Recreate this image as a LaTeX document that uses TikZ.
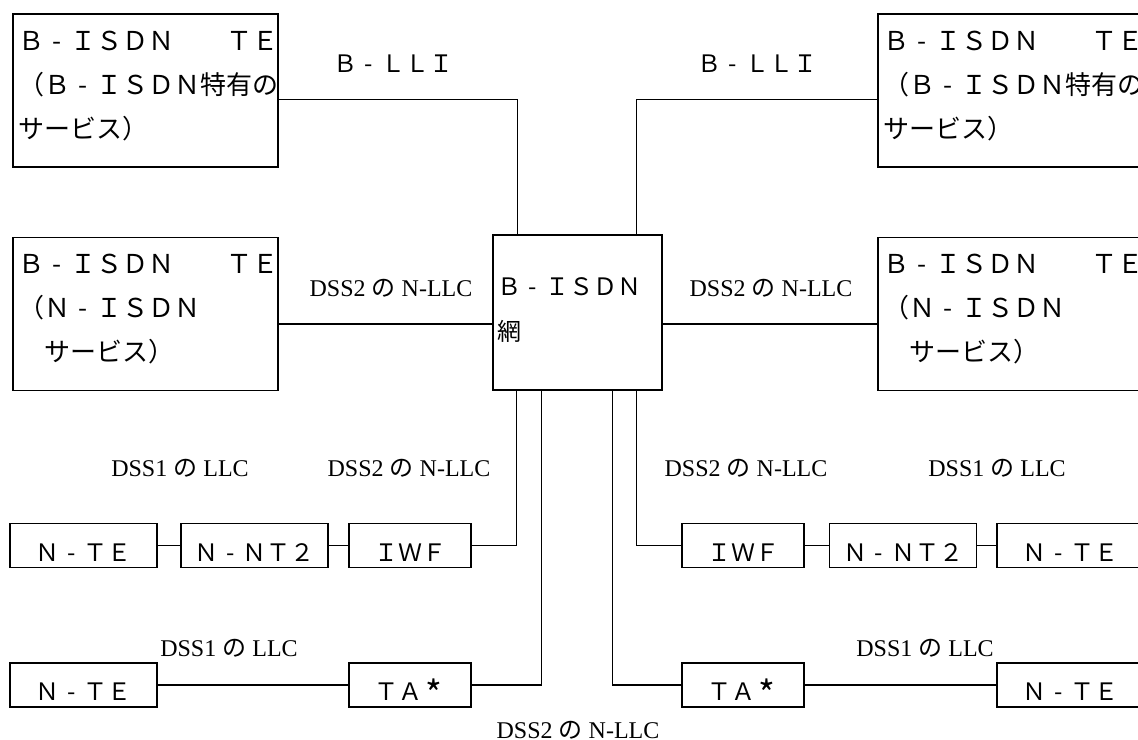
\documentclass[tikz,border=0pt]{standalone}
\usepackage{fontspec}
\usepackage{graphicx}
\setmainfont{Liberation Serif}
\newfontfamily\jp{Noto Sans CJK JP}
\newcommand\fwdash{\makebox[1em]{-}}
\newcommand\fwstar{\makebox[1em]{\raisebox{-0.3em}{\scalebox{1.5}{*}}}}
\usetikzlibrary{calc}

\begin{document}
\begin{tikzpicture}[x=0.75pt, y=-0.75pt, line width=0.8pt,
  bigbox/.style={draw, minimum width=198.75pt, minimum height=114.75pt, inner sep=0pt},
  bigtext/.style={anchor=north west, align=left, inner xsep=4pt, inner ysep=0pt, font=\jp\fontsize{19.5pt}{33pt}\selectfont},
  unitbox/.style={draw, minimum height=33pt, inner sep=0pt, text height=23.25pt, text depth=0pt, font=\jp\fontsize{18pt}{22pt}\selectfont},
  widebox/.style={unitbox, minimum width=110.25pt},
  narrowbox/.style={unitbox, minimum width=91.5pt},
  proto/.style={anchor=base, font=\fontsize{18pt}{22pt}\selectfont},
  ]
\useasboundingbox (0,0) rectangle (1138,739);

\node[bigbox] (bteL1) at (145.5,90.5) {};
\node[bigtext] (tL1) at (bteL1.north west) {\rule{0pt}{27pt}Ｂ\fwdash ＩＳＤＮ　　ＴＥ\\（Ｂ\fwdash ＩＳＤＮ特有の\\サービス）};
\node[bigbox] (bteR1) at (1010.5,90.5) {};
\node[bigtext] (tR1) at (bteR1.north west) {\rule{0pt}{27pt}Ｂ\fwdash ＩＳＤＮ　　ＴＥ\\（Ｂ\fwdash ＩＳＤＮ特有の\\サービス）};
\node[bigbox] (bteL2) at (145.5,314) {};
\node[bigtext] (tL2) at (bteL2.north west) {\rule{0pt}{27pt}Ｂ\fwdash ＩＳＤＮ　　ＴＥ\\（Ｎ\fwdash ＩＳＤＮ\\　サービス）};
\node[bigbox] (bteR2) at (1010.5,314) {};
\node[bigtext] (tR2) at (bteR2.north west) {\rule{0pt}{27pt}Ｂ\fwdash ＩＳＤＮ　　ＴＥ\\（Ｎ\fwdash ＩＳＤＮ\\　サービス）};

\node[draw, minimum width=126.75pt, minimum height=116.25pt, inner sep=0pt] (net) at (577.5,312.5) {};
\node[bigtext, inner xsep=3pt, font=\jp\fontsize{18pt}{33.75pt}\selectfont] (netlbl) at (net.north west) {\rule{0pt}{45pt}Ｂ\fwdash ＩＳＤＮ\\網};

\node[widebox] (nteL) at (83.5,545.5) {Ｎ\fwdash ＴＥ};
\node[widebox] (nnt2L) at (254.5,545.5) {Ｎ\fwdash ＮＴ２};
\node[narrowbox] (iwfL) at (410,545.5) {ＩＷＦ};
\node[narrowbox] (iwfR) at (743,545.5) {ＩＷＦ};
\node[widebox] (nnt2R) at (903,545.5) {Ｎ\fwdash ＮＴ２};
\node[widebox] (nteR) at (1070.5,545.5) {Ｎ\fwdash ＴＥ};
\node[widebox] (nteL2) at (83.5,685) {Ｎ\fwdash ＴＥ};
\node[narrowbox] (taL) at (410,685) {ＴＡ\fwstar};
\node[narrowbox] (taR) at (743,685) {ＴＡ\fwstar};
\node[widebox] (nteR2) at (1070.5,685) {Ｎ\fwdash ＴＥ};

\node[proto, font=\jp\fontsize{18pt}{22pt}\selectfont] (lliL) at (393,72) {Ｂ\fwdash ＬＬＩ};
\node[proto, font=\jp\fontsize{18pt}{22pt}\selectfont] (lliR) at (757,72) {Ｂ\fwdash ＬＬＩ};
\node[proto] (nllcL) at (391,296) {DSS2 {\jp の} N-LLC};
\node[proto] (nllcR) at (771,296) {DSS2 {\jp の} N-LLC};
\node[proto] (llcL1) at (180,476) {DSS1 {\jp の} LLC};
\node[proto] (nllcL1) at (409,476) {DSS2 {\jp の} N-LLC};
\node[proto] (nllcR1) at (746,476) {DSS2 {\jp の} N-LLC};
\node[proto] (llcR1) at (997,476) {DSS1 {\jp の} LLC};
\node[proto] (llcL2) at (229,656) {DSS1 {\jp の} LLC};
\node[proto] (llcR2) at (925,656) {DSS1 {\jp の} LLC};
\node[proto] (nllcB) at (578,738) {DSS2 {\jp の} N-LLC};

\coordinate (wA) at ($(net.north west)+(25,0)$);
\coordinate (wB) at ($(net.north west)+(144,0)$);
\coordinate (wC) at ($(net.south west)+(24,0)$);
\coordinate (wD) at ($(net.south west)+(49,0)$);
\coordinate (wE) at ($(net.south west)+(120,0)$);
\coordinate (wF) at ($(net.south west)+(144,0)$);
\coordinate (jL1) at ($(bteL1.north east)+(0,86)$);
\coordinate (jR1) at ($(bteR1.north west)+(0,86)$);
\coordinate (jL2) at ($(bteL2.north east)+(0,87)$);
\coordinate (jR2) at ($(bteR2.north west)+(0,87)$);

\draw (jL1) -| (wA);
\draw (jR1) -| (wB);
\draw (jL2) -- (jL2 -| net.west);
\draw (jR2) -- (jR2 -| net.east);
\draw (wC) |- (iwfL);
\draw (wD) |- (taL);
\draw (wE) |- (taR);
\draw (wF) |- (iwfR);
\draw (nteL) -- (nnt2L);
\draw (nnt2L) -- (iwfL);
\draw (iwfR) -- (nnt2R);
\draw (nnt2R) -- (nteR);
\draw (nteL2) -- (taL);
\draw (taR) -- (nteR2);
\end{tikzpicture}
\end{document}
